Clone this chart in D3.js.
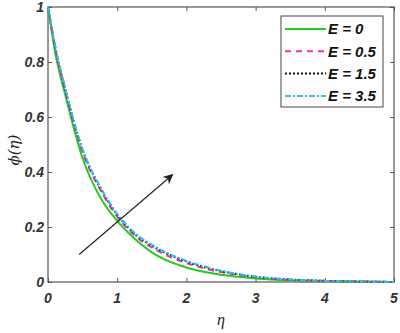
<!DOCTYPE html>
<html>
<head>
<meta charset="utf-8">
<script src="https://cdn.jsdelivr.net/npm/d3@7"></script>
<style>
  body { margin: 0; background: #fff; }
</style>
</head>
<body>
<div id="chart"></div>
<script>
var eta = [0, 0.1, 0.25, 0.5, 0.75, 1, 1.25, 1.5, 1.75, 2, 2.25, 2.5, 2.75, 3, 3.5, 4, 4.5, 5];
var phiE0   = [1, 0.84, 0.68, 0.45, 0.31, 0.222, 0.158, 0.108, 0.075, 0.053, 0.037, 0.026, 0.019, 0.013, 0.006, 0.003, 0.001, 0];
var phiE05  = [1, 0.855, 0.695, 0.472, 0.338, 0.238, 0.17, 0.125, 0.093, 0.069, 0.05, 0.036, 0.026, 0.018, 0.008, 0.004, 0.002, 0];
var phiE15  = [1, 0.86, 0.70, 0.48, 0.345, 0.245, 0.176, 0.132, 0.10, 0.075, 0.055, 0.04, 0.028, 0.019, 0.009, 0.004, 0.002, 0];
var phiE35  = [1, 0.862, 0.703, 0.483, 0.348, 0.248, 0.179, 0.135, 0.102, 0.077, 0.057, 0.041, 0.029, 0.02, 0.009, 0.004, 0.002, 0];
var seriesNames = ["E = 0", "E = 0.5", "E = 1.5", "E = 3.5"];
var xTicks = [0, 1, 2, 3, 4, 5];
var yTicks = [0, 0.2, 0.4, 0.6, 0.8, 1];
var arrowFrom = [0.45, 0.1];
var arrowTo = [1.8, 0.39];

var width = 400, height = 333;
var margin = { left: 48, top: 7, right: 6, bottom: 51 };
var innerWidth = width - margin.left - margin.right;
var innerHeight = height - margin.top - margin.bottom;

var svg = d3.select("#chart").append("svg")
    .attr("width", width)
    .attr("height", height);

svg.append("defs").append("marker")
    .attr("id", "arrowhead")
    .attr("viewBox", "0 0 10 10")
    .attr("refX", 9).attr("refY", 5)
    .attr("markerWidth", 10).attr("markerHeight", 10)
    .attr("markerUnits", "userSpaceOnUse")
    .attr("orient", "auto")
    .append("path")
    .attr("d", "M0,0 L10,5 L0,10 L3,5 z")
    .attr("fill", "#222");

var g = svg.append("g")
    .attr("transform", "translate(" + margin.left + "," + margin.top + ")");

var x = d3.scaleLinear().domain([0, 5]).range([0, innerWidth]);
var y = d3.scaleLinear().domain([0, 1]).range([innerHeight, 0]);

// axes with inward ticks, box around
var axisColor = "#555";
function styleAxis(sel) {
    sel.select(".domain").remove();
    sel.selectAll(".tick line").attr("stroke", axisColor);
}
g.append("rect")
    .attr("width", innerWidth).attr("height", innerHeight)
    .attr("fill", "none").attr("stroke", axisColor).attr("stroke-width", 1.2);
g.append("g").attr("transform", "translate(0," + innerHeight + ")")
    .call(d3.axisBottom(x).tickValues(xTicks).tickSize(-4).tickFormat(""))
    .call(styleAxis);
g.append("g")
    .call(d3.axisTop(x).tickValues(xTicks).tickSize(-4).tickFormat(""))
    .call(styleAxis);
g.append("g")
    .call(d3.axisLeft(y).tickValues(yTicks).tickSize(-4).tickFormat(""))
    .call(styleAxis);
g.append("g").attr("transform", "translate(" + innerWidth + ",0)")
    .call(d3.axisRight(y).tickValues(yTicks).tickSize(-4).tickFormat(""))
    .call(styleAxis);
g.selectAll(".tick text").remove();

// tick labels
var tickFont = "Arial, 'Liberation Sans', sans-serif";
g.selectAll(".xlabel").data(xTicks).enter()
    .append("text")
    .attr("class", "xlabel")
    .attr("x", function(d) { return x(d); })
    .attr("y", innerHeight + 21)
    .attr("text-anchor", "middle")
    .attr("font-family", tickFont).attr("font-weight", "bold").attr("font-style", "italic")
    .attr("font-size", 14).attr("fill", "#333")
    .text(function(d) { return d; });
g.selectAll(".ylabel").data(yTicks).enter()
    .append("text")
    .attr("class", "ylabel")
    .attr("x", -4)
    .attr("y", function(d) { return y(d); })
    .attr("dy", "0.36em")
    .attr("text-anchor", "end")
    .attr("font-family", tickFont).attr("font-weight", "bold").attr("font-style", "italic")
    .attr("font-size", 14).attr("fill", "#333")
    .text(function(d) { return d === 0 || d === 1 ? d : d3.format(".1f")(d); });

var series = [
    { name: seriesNames[0], values: phiE0,  color: "#22cc22", dash: null },
    { name: seriesNames[1], values: phiE05, color: "#ee3399", dash: "6,5" },
    { name: seriesNames[2], values: phiE15, color: "#111111", dash: "2,2" },
    { name: seriesNames[3], values: phiE35, color: "#33bbee", dash: "6,2,2,2" }
];

var line = d3.line()
    .x(function(d, i) { return x(eta[i]); })
    .y(function(d) { return y(d); })
    .curve(d3.curveMonotoneX);

g.selectAll(".series").data(series).enter()
    .append("path")
    .attr("class", "series")
    .attr("d", function(d) { return line(d.values); })
    .attr("fill", "none")
    .attr("stroke", function(d) { return d.color; })
    .attr("stroke-width", 2)
    .attr("stroke-dasharray", function(d) { return d.dash; });

// arrow
g.append("line")
    .attr("x1", x(arrowFrom[0])).attr("y1", y(arrowFrom[1]))
    .attr("x2", x(arrowTo[0])).attr("y2", y(arrowTo[1]))
    .attr("stroke", "#222").attr("stroke-width", 1.2)
    .attr("marker-end", "url(#arrowhead)");

// legend
var legend = svg.append("g").attr("transform", "translate(281,16)");
legend.append("rect")
    .attr("width", 102).attr("height", 91)
    .attr("fill", "#fff").attr("stroke", "#444").attr("stroke-width", 1);
var item = legend.selectAll(".item").data(series).enter()
    .append("g")
    .attr("transform", function(d, i) { return "translate(0," + (13 + i * 22.3) + ")"; });
item.append("line")
    .attr("x1", 4).attr("x2", 45)
    .attr("stroke", function(d) { return d.color; })
    .attr("stroke-width", 2)
    .attr("stroke-dasharray", function(d) { return d.dash; });
item.append("text")
    .attr("x", 47).attr("dy", "0.36em")
    .attr("font-family", "Arial, 'Liberation Sans', sans-serif")
    .attr("font-weight", "bold").attr("font-style", "italic")
    .attr("font-size", 15).attr("fill", "#111")
    .text(function(d) { return d.name; });

// axis labels
svg.append("text")
    .attr("x", margin.left + innerWidth / 2).attr("y", 325)
    .attr("text-anchor", "middle")
    .attr("font-family", "'Liberation Serif', 'DejaVu Serif', serif")
    .attr("font-style", "italic").attr("font-size", 16).attr("fill", "#222")
    .text("η");
svg.append("text")
    .attr("transform", "translate(19,150) rotate(-90)")
    .attr("text-anchor", "middle")
    .attr("font-family", "'DejaVu Serif', 'Liberation Serif', serif")
    .attr("font-style", "italic").attr("font-size", 15).attr("fill", "#222")
    .text("ϕ(η)");
</script>
</body>
</html>
